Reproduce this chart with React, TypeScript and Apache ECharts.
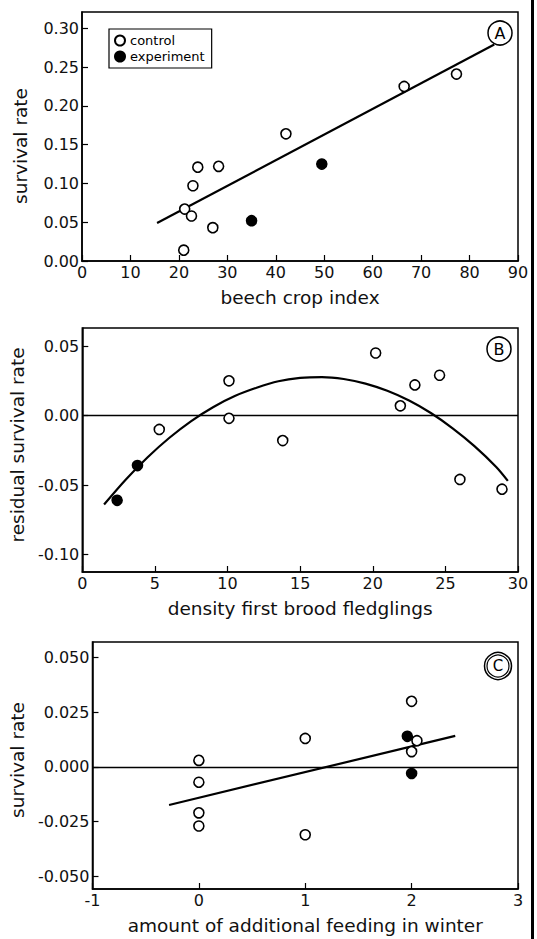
import React, { useEffect, useRef } from "react";
import * as echarts from "echarts";

const FONT = "DejaVu Sans";

// ---- Panel A : survival rate vs beech crop index ----
const aControl = [
  [21.0, 0.014], [21.2, 0.067], [22.6, 0.058], [22.9, 0.097], [23.9, 0.121],
  [27.0, 0.043], [28.2, 0.122], [42.1, 0.164], [66.5, 0.225], [77.3, 0.241],
];
const aExperiment = [[35.0, 0.052], [49.5, 0.125]];
const aFit = [[15.5, 0.049], [85.1, 0.279]];
const aXTicks = [0, 10, 20, 30, 40, 50, 60, 70, 80, 90];
const aYTicks = [0, 0.05, 0.1, 0.15, 0.2, 0.25, 0.3];

// ---- Panel B : residual survival rate vs density first brood fledglings ----
const bControl = [
  [5.3, -0.010], [10.1, 0.025], [10.1, -0.002], [13.8, -0.018], [20.2, 0.045],
  [21.9, 0.007], [22.9, 0.022], [24.6, 0.029], [26.0, -0.046], [28.9, -0.053],
];
const bExperiment = [[2.4, -0.061], [3.8, -0.036]];
// fitted curve
const bFit = [
  [1.5, -0.064], [3, -0.046], [4.5, -0.030], [6, -0.016], [7.5, -0.004],
  [9, 0.006], [10.5, 0.014], [12, 0.020], [13.5, 0.0247], [15, 0.0271],
  [16.5, 0.0277], [18, 0.0263], [19.5, 0.023], [21, 0.0178], [22.5, 0.0108],
  [24, 0.0018], [25.5, -0.0092], [27, -0.022], [28.5, -0.037], [29.3, -0.047],
];
const bXTicks = [0, 5, 10, 15, 20, 25, 30];
const bYTicks = [-0.1, -0.05, 0, 0.05];

// ---- Panel C : survival rate vs amount of additional feeding in winter ----
const cControl = [
  [0, 0.003], [0, -0.007], [0, -0.021], [0, -0.027], [1, 0.013], [1, -0.031],
  [2, 0.030], [2.05, 0.012], [2, 0.007],
];
const cExperiment = [[1.96, 0.014], [2, -0.003]];
const cFit = [[-0.28, -0.0174], [2.41, 0.0142]];
const cXTicks = [-1, 0, 1, 2, 3];
const cYTicks = [-0.05, -0.025, 0, 0.025, 0.05];

const labelStyle = { fontFamily: FONT, fontSize: 16, color: "#111" };
const nameStyle = { fontFamily: FONT, fontSize: 18.5, color: "#111" };

function xAxis(gridIndex: number, min: number, max: number, ticks: number[], name: string) {
  return {
    type: "value",
    gridIndex,
    min,
    max,
    name,
    nameLocation: "middle",
    nameGap: 27,
    nameTextStyle: nameStyle,
    axisLine: { show: true, onZero: false, lineStyle: { color: "#000", width: 1.5 } },
    axisTick: { show: true, inside: true, length: 6, customValues: ticks, lineStyle: { color: "#000", width: 1.2 } },
    axisLabel: { ...labelStyle, margin: 3, customValues: ticks, formatter: (v: number) => String(v) },
    splitLine: { show: false },
  };
}

function yAxis(
  gridIndex: number, min: number, max: number, ticks: number[], digits: number, name: string,
  namePadding: number[],
) {
  return {
    type: "value",
    gridIndex,
    min,
    max,
    name,
    nameLocation: "middle",
    nameGap: 52,
    nameTextStyle: { ...nameStyle, padding: namePadding },
    axisLine: { show: true, onZero: false, lineStyle: { color: "#000", width: 1.5 } },
    axisTick: { show: true, inside: true, length: 6, customValues: ticks, lineStyle: { color: "#000", width: 1.2 } },
    axisLabel: { ...labelStyle, margin: 3, customValues: ticks, formatter: (v: number) => v.toFixed(digits) },
    splitLine: { show: false },
  };
}

function scatter(name: string, data: number[][], idx: number, filled: boolean) {
  return {
    type: "scatter",
    name,
    xAxisIndex: idx,
    yAxisIndex: idx,
    data,
    symbol: "circle",
    symbolSize: 10,
    itemStyle: { color: filled ? "#000" : "#fff", borderColor: "#000", borderWidth: 1.6, opacity: 1 },
    emphasis: { disabled: true },
    z: 5,
  };
}

function fitLine(data: number[][], idx: number, smooth: boolean | number, zero: boolean) {
  return {
    type: "line",
    name: "fit",
    xAxisIndex: idx,
    yAxisIndex: idx,
    data,
    smooth,
    symbol: "none",
    showSymbol: false,
    lineStyle: { color: "#000", width: 2.2 },
    silent: true,
    z: 3,
    markLine: zero
      ? {
          silent: true,
          symbol: ["none", "none"],
          label: { show: false },
          lineStyle: { color: "#000", width: 1.3, type: "solid" },
          data: [{ yAxis: 0 }],
        }
      : undefined,
  };
}

function badge(letter: string, cx: number, cy: number, double: boolean) {
  const els: any[] = [
    { type: "circle", shape: { cx, cy, r: double ? 13.5 : 12 }, style: { fill: "#fff", stroke: "#000", lineWidth: 1.5 } },
  ];
  if (double) {
    els.push({ type: "circle", shape: { cx, cy, r: 11 }, style: { fill: "none", stroke: "#000", lineWidth: 1.2 } });
  }
  els.push({
    type: "text",
    x: cx,
    y: cy,
    style: { text: letter, fontFamily: FONT, fontSize: double ? 15 : 16, fill: "#000", align: "center", verticalAlign: "middle" },
  });
  return els;
}

export default function App() {
  const ref = useRef<HTMLDivElement>(null);
  useEffect(() => {
    if (!ref.current) return;
    const chart = echarts.init(ref.current, null, { renderer: "svg" });
    chart.setOption({
      animation: false,
      backgroundColor: "#fff",
      grid: [
        { left: 82, top: 12, width: 436, height: 249, show: true, borderColor: "#000", borderWidth: 1.5 },
        { left: 82, top: 328, width: 436, height: 244, show: true, borderColor: "#000", borderWidth: 1.5 },
        { left: 82, top: 642, width: 436, height: 247, show: true, borderColor: "#000", borderWidth: 1.5 },
      ],
      xAxis: [
        xAxis(0, 0, 90, aXTicks, "beech crop index"),
        xAxis(1, 0, 30, bXTicks, "density first brood fledglings"),
        xAxis(2, -1, 3, cXTicks, "amount of additional feeding in winter"),
      ],
      yAxis: [
        yAxis(0, 0, 0.321, aYTicks, 2, "survival rate", [0, 19, 0, 0]),
        yAxis(1, -0.1126, 0.063, bYTicks, 2, "residual survival rate", [0, 0, 0, 10]),
        yAxis(2, -0.0558, 0.0571, cYTicks, 3, "survival rate", [0, 0, 0, 11]),
      ],
      legend: {
        data: ["control", "experiment"],
        orient: "vertical",
        left: 109,
        top: 29,
        itemWidth: 10,
        itemHeight: 10,
        itemGap: 3,
        padding: [5, 7, 5, 5],
        borderColor: "#000",
        borderWidth: 1.2,
        backgroundColor: "#fff",
        selectedMode: false,
        textStyle: { fontFamily: FONT, fontSize: 13, color: "#000" },
      },
      series: [
        scatter("control", aControl, 0, false),
        scatter("experiment", aExperiment, 0, true),
        fitLine(aFit, 0, false, false),
        scatter("control", bControl, 1, false),
        scatter("experiment", bExperiment, 1, true),
        fitLine(bFit, 1, 0.3, true),
        scatter("control", cControl, 2, false),
        scatter("experiment", cExperiment, 2, true),
        fitLine(cFit, 2, false, true),
      ],
      graphic: [
        ...badge("A", 500, 33, false),
        ...badge("B", 499, 349, false),
        ...badge("C", 498, 666, true),
        { type: "rect", shape: { x: 531, y: 0, width: 3, height: 939 }, style: { fill: "#000" } },
      ],
    });
    return () => chart.dispose();
  }, []);
  return <div ref={ref} style={{ position: "absolute", left: 0, top: 0, width: 537, height: 939 }} />;
}
